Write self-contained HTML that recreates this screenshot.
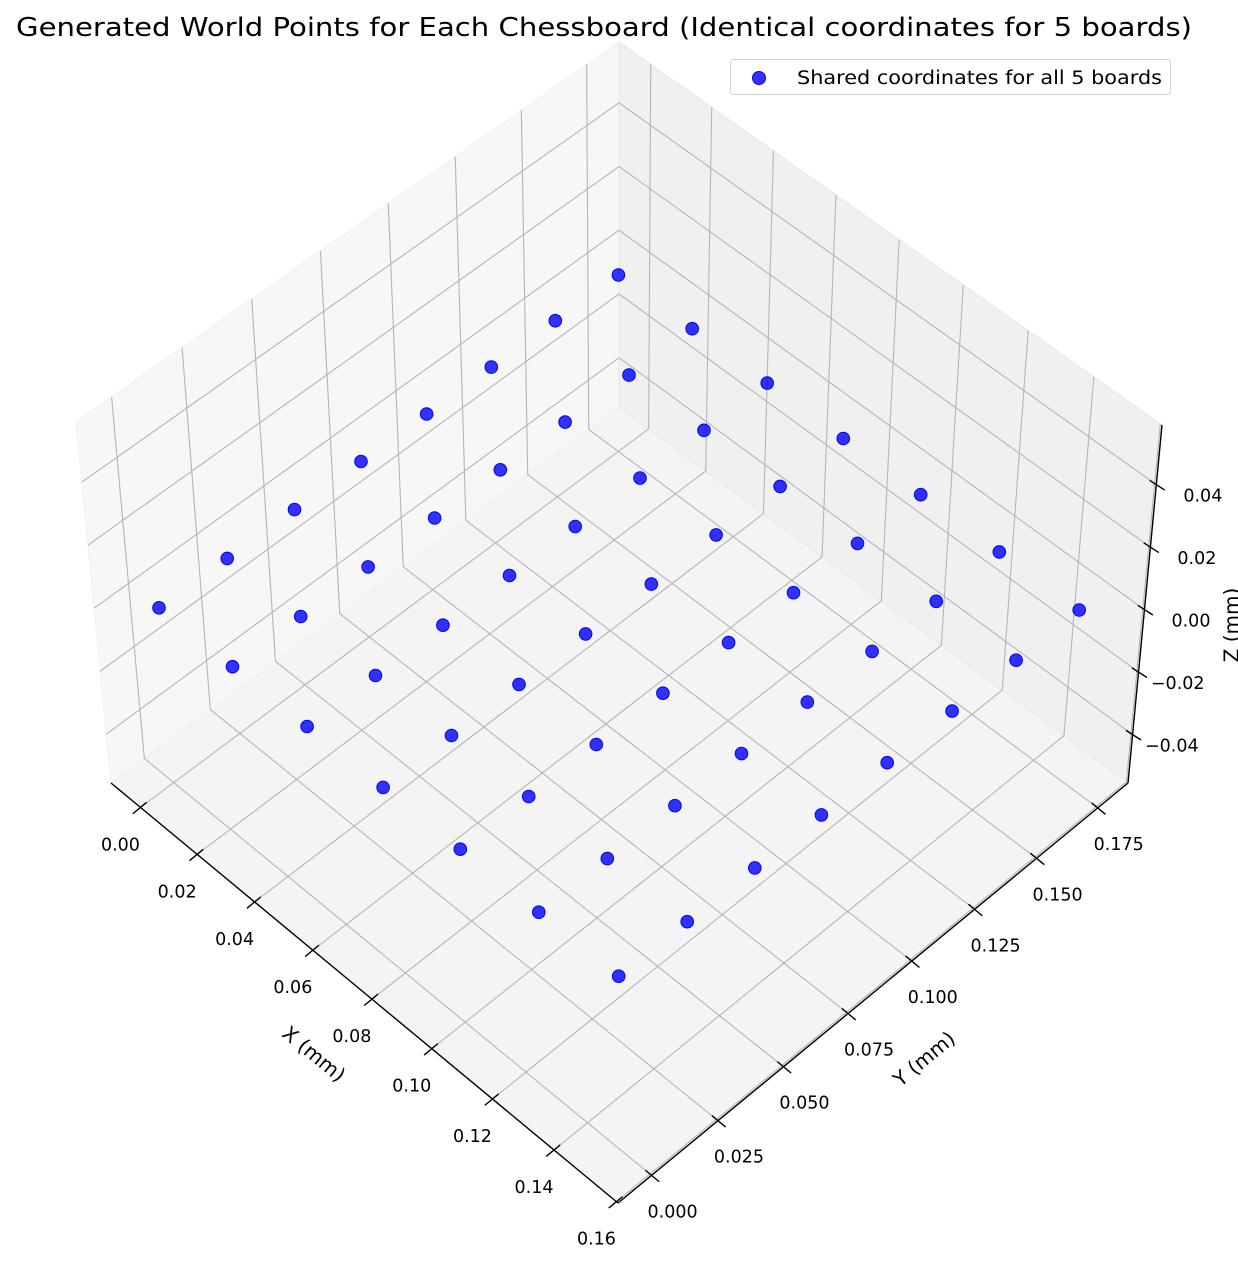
<!DOCTYPE html>
<html><head><meta charset="utf-8"><style>
html,body{margin:0;padding:0;background:#fff;}
svg{display:block;font-family:"DejaVu Sans","Liberation Sans",sans-serif;}
</style></head><body>
<svg id="chart" width="1238" height="1268" viewBox="0 0 1238 1268">
<text x="604" y="36" font-size="25.5" text-anchor="middle" textLength="1176" lengthAdjust="spacingAndGlyphs" fill="#000">Generated World Points for Each Chessboard (Identical coordinates for 5 boards)</text>
<g id="panes"></g>
<g id="grid"></g>
<g id="axes"></g>
<g id="points"></g>
<text transform="translate(313,1055) rotate(39.6)" font-size="20" text-anchor="middle" dominant-baseline="middle">X (mm)</text>
<text transform="translate(925,1060) rotate(-39.6)" font-size="20" text-anchor="middle" dominant-baseline="middle">Y (mm)</text>
<text transform="translate(1233,625) rotate(-90)" font-size="20" text-anchor="middle" dominant-baseline="middle">Z (mm)</text>
<g>
<rect x="730.5" y="59.5" width="440" height="35" rx="3" fill="#fff" fill-opacity="0.8" stroke="#d0d0d0"/>
<circle cx="759" cy="78" r="6.5" fill="#0000ff" fill-opacity="0.8" stroke="#0000ff"/>
<text x="797" y="84" font-size="18.5" textLength="365" lengthAdjust="spacingAndGlyphs">Shared coordinates for all 5 boards</text>
</g>
</svg>
<script>
// data
const xValues = [0, 0.025, 0.05, 0.075, 0.1, 0.125, 0.15];
const yValues = [0, 0.025, 0.05, 0.075, 0.1, 0.125, 0.15, 0.175];
const zValue = 0;
const xTicks = [0, 0.02, 0.04, 0.06, 0.08, 0.10, 0.12, 0.14, 0.16];
const yTicks = [0, 0.025, 0.05, 0.075, 0.1, 0.125, 0.15, 0.175];
const zTicks = [-0.04, -0.02, 0, 0.02, 0.04];
const xTickLabels = ["0.00","0.02","0.04","0.06","0.08","0.10","0.12","0.14","0.16"];
const yTickLabels = ["0.000","0.025","0.050","0.075","0.100","0.125","0.150","0.175"];
const zTickLabels = ["\u22120.04","\u22120.02","0.00","0.02","0.04"];
const xLim = [-0.0105, 0.1605], yLim = [-0.0125, 0.1875], zLim = [-0.0555, 0.0591];

const NS = "http://www.w3.org/2000/svg";
function quad(p0,p1,p2,p3){
  const sx=p0[0]-p1[0]+p2[0]-p3[0], sy=p0[1]-p1[1]+p2[1]-p3[1];
  const dx1=p1[0]-p2[0], dx2=p3[0]-p2[0], dy1=p1[1]-p2[1], dy2=p3[1]-p2[1];
  const den=dx1*dy2-dx2*dy1;
  const g=(sx*dy2-dx2*sy)/den, h=(dx1*sy-sx*dy1)/den;
  const a=p1[0]-p0[0]+g*p1[0], b=p3[0]-p0[0]+h*p3[0], c=p0[0];
  const d=p1[1]-p0[1]+g*p1[1], e=p3[1]-p0[1]+h*p3[1], f=p0[1];
  return (u,v)=>{const w=g*u+h*v+1;return [(a*u+b*v+c)/w,(d*u+e*v+f)/w];};
}
const floorH = quad([111,783],[618,1203],[1128,783],[619,407]);
const ceilH = quad([76,422],[618,848],[1162,425],[619,42]);
function P(x,y,z){
  const u=(x-xLim[0])/(xLim[1]-xLim[0]), v=(y-yLim[0])/(yLim[1]-yLim[0]);
  const t=(z-zLim[0])/(zLim[1]-zLim[0]);
  const f=floorH(u,v), c=ceilH(u,v);
  return [f[0]+(c[0]-f[0])*t, f[1]+(c[1]-f[1])*t];
}
function mk(parent,tag,attrs){const el=document.createElementNS(NS,tag);for(const k in attrs)el.setAttribute(k,attrs[k]);document.getElementById(parent).appendChild(el);return el;}
function poly(pts){return pts.map(p=>p[0].toFixed(1)+","+p[1].toFixed(1)).join(" ");}
const [x0,x1]=xLim,[y0,y1]=yLim,[z0,z1]=zLim;

let el;
el=mk("panes","polygon",{points:poly([P(x0,y0,z0),P(x1,y0,z0),P(x1,y1,z0),P(x0,y1,z0)]),fill:"#f4f4f4",stroke:"#eeeeee"});


el=mk("panes","polygon",{points:poly([P(x0,y0,z0),P(x0,y1,z0),P(x0,y1,z1),P(x0,y0,z1)]),fill:"#f7f7f7",stroke:"#f0f0f0"});


el=mk("panes","polygon",{points:poly([P(x0,y1,z0),P(x1,y1,z0),P(x1,y1,z1),P(x0,y1,z1)]),fill:"#f0f0f0",stroke:"#e8e8e8"});



function line(g,a,b,attrs){const e=mk(g,"line",Object.assign({x1:a[0],y1:a[1],x2:b[0],y2:b[1]},attrs));return e;}
const gs={stroke:"#b5b5b5","stroke-width":1.1};
xTicks.forEach(x=>{
  el=line("grid",P(x,y0,z0),P(x,y1,z0),gs);
  
  
  el=line("grid",P(x,y1,z0),P(x,y1,z1),gs);
  
  
});
yTicks.forEach(y=>{
  el=line("grid",P(x0,y,z0),P(x1,y,z0),gs);
  
  
  el=line("grid",P(x0,y,z0),P(x0,y,z1),gs);
  
  
});
zTicks.forEach(z=>{
  el=line("grid",P(x0,y0,z),P(x0,y1,z),gs);
  
  
  el=line("grid",P(x0,y1,z),P(x1,y1,z),gs);
  
  
});

const ax={stroke:"#000","stroke-width":1.4};
el=line("axes",P(x0,y0,z0),P(x1,y0,z0),ax);


el=line("axes",P(x1,y0,z0),P(x1,y1,z0),ax);


el=line("axes",P(x1,y1,z0),P(x1,y1,z1),ax);



function label(x,y,txt,anchor){const t=mk("axes","text",{x:x,y:y,"font-size":17.5,"text-anchor":anchor,"dominant-baseline":"middle",fill:"#000"});t.textContent=txt;return t;}
xTicks.forEach((x,i)=>{
  const p=P(x,y0,z0);
  el=line("axes",[p[0]+0.77*8,p[1]-0.636*8],[p[0]-0.77*10,p[1]+0.636*10],ax);
  
  
  el=label(p[0]-20,p[1]+38,xTickLabels[i],"middle");
  
  
});
yTicks.forEach((y,i)=>{
  const p=P(x1,y,z0);
  el=line("axes",[p[0]-0.77*8,p[1]-0.64*8],[p[0]+0.77*10,p[1]+0.64*10],ax);
  
  
  el=label(p[0]+21,p[1]+37,yTickLabels[i],"middle");
  
  
});
zTicks.forEach((z,i)=>{
  const p=P(x1,y1,z);
  el=line("axes",[p[0]-0.84*8,p[1]-0.54*8],[p[0]+0.84*10,p[1]+0.54*10],ax);
  
  
  el=label(p[0]+66,p[1]+12,zTickLabels[i],"end");
  
  
});

xValues.forEach(x=>{
  yValues.forEach(y=>{
    const p=P(x,y,zValue);
    const c=mk("points","circle",{cx:p[0].toFixed(1),cy:p[1].toFixed(1),r:6.3,fill:"#0000ff","fill-opacity":0.8,stroke:"#0000ff","stroke-width":1});
    
    
  });
});
</script>
</body></html>
